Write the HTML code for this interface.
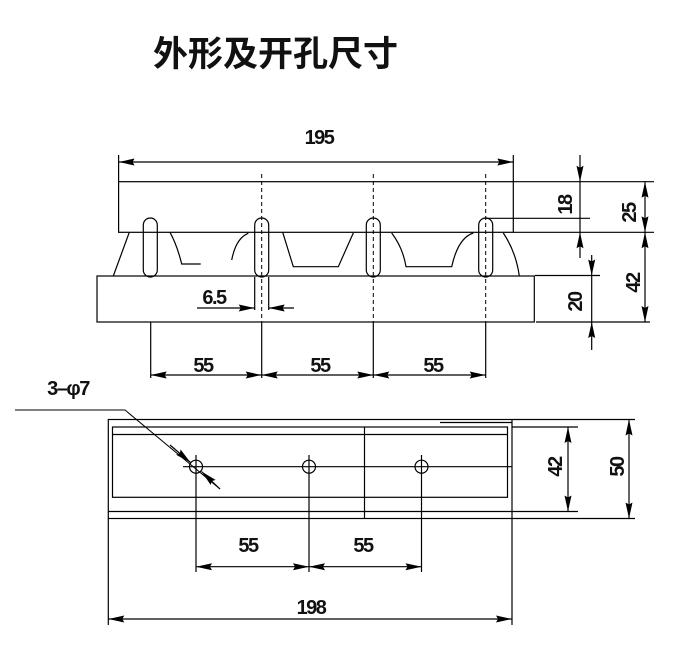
<!DOCTYPE html>
<html><head><meta charset="utf-8"><style>
html,body{margin:0;padding:0;background:#fff;}
svg{display:block;}
text{font-family:"Liberation Sans",Arial,sans-serif;font-size:20px;fill:#111;font-weight:bold;}
</style></head><body>
<svg width="679" height="648" viewBox="0 0 679 648" xmlns="http://www.w3.org/2000/svg">
<defs>
<marker id="a" viewBox="0 0 16 8" refX="16" refY="4" markerWidth="16" markerHeight="8" markerUnits="userSpaceOnUse" orient="auto-start-reverse">
<path d="M0,0.5 L16,4 L0,7.5 L2,4 Z" fill="#000"/>
</marker>
</defs>
<text x="153" y="66" style="font-family:'Liberation Sans','Noto Sans CJK SC',sans-serif;font-size:35px;font-weight:bold;">外形及开孔尺寸</text>

<g stroke="#000" stroke-width="1.2" fill="none">
<rect x="118.6" y="181.7" width="394.7" height="50.6"/>
<rect x="97" y="276" width="437.3" height="46"/>
<line x1="118.6" y1="155" x2="118.6" y2="182"/>
<line x1="513.3" y1="155" x2="513.3" y2="182"/>
<line x1="118.6" y1="162" x2="513.3" y2="162" marker-start="url(#a)" marker-end="url(#a)"/>
<g stroke-dasharray="4,3" stroke-width="1">
<line x1="261.7" y1="174" x2="261.7" y2="322"/>
<line x1="373.3" y1="174" x2="373.3" y2="322"/>
<line x1="485.7" y1="174" x2="485.7" y2="322"/>
</g>
<rect x="143.3" y="218" width="14" height="59" rx="7"/>
<rect x="254.7" y="218" width="14" height="59" rx="7"/>
<rect x="366.3" y="218" width="14" height="59" rx="7"/>
<rect x="478.7" y="218" width="14" height="59" rx="7"/>
<path d="M129.3,232.3 L113.3,276"/>
<path d="M170,232.3 Q177,245 181.7,264 L200.7,264"/>
<path d="M231.7,260 Q236,238 248.3,233.3"/>
<path d="M282.7,232.3 L293.3,266.7 L338.3,266.7 L353.3,233"/>
<path d="M391.7,233 Q403,248 406,266.7 L451.7,266.7 Q458,238 473.3,233"/>
<path d="M503.3,233 Q516,252 519.3,276"/>
<line x1="254.7" y1="277" x2="254.7" y2="310"/>
<line x1="268.7" y1="277" x2="268.7" y2="310"/>
<line x1="197" y1="308" x2="254.7" y2="308" marker-end="url(#a)"/>
<line x1="294" y1="308" x2="268.7" y2="308" marker-end="url(#a)"/>
<line x1="150.7" y1="322" x2="150.7" y2="378"/>
<line x1="261.7" y1="322" x2="261.7" y2="378"/>
<line x1="373.3" y1="322" x2="373.3" y2="378"/>
<line x1="485.7" y1="322" x2="485.7" y2="378"/>
<line x1="150.7" y1="375" x2="261.7" y2="375" marker-start="url(#a)" marker-end="url(#a)"/>
<line x1="261.7" y1="375" x2="373.3" y2="375" marker-start="url(#a)" marker-end="url(#a)"/>
<line x1="373.3" y1="375" x2="485.7" y2="375" marker-start="url(#a)" marker-end="url(#a)"/>
<line x1="513.3" y1="181.7" x2="654" y2="181.7"/>
<line x1="513.3" y1="232.3" x2="654" y2="232.3"/>
<line x1="485.7" y1="218.3" x2="590" y2="218.3"/>
<line x1="580" y1="155" x2="580" y2="181.7" marker-end="url(#a)"/>
<line x1="580" y1="181.7" x2="580" y2="232.3"/>
<line x1="580" y1="258" x2="580" y2="232.3" marker-end="url(#a)"/>
<line x1="645" y1="181.7" x2="645" y2="232.3" marker-start="url(#a)" marker-end="url(#a)"/>
<line x1="645" y1="232.3" x2="645" y2="322" marker-start="url(#a)" marker-end="url(#a)"/>
<line x1="535" y1="275.5" x2="600" y2="275.5"/>
<line x1="536" y1="322" x2="650" y2="322"/>
<line x1="591.7" y1="255" x2="591.7" y2="275.5" marker-end="url(#a)"/>
<line x1="591.7" y1="275.5" x2="591.7" y2="322"/>
<line x1="591.7" y1="350" x2="591.7" y2="322" marker-end="url(#a)"/>

<rect x="108.3" y="419.5" width="403.7" height="99"/>
<rect x="112.5" y="427" width="395" height="70.3"/>
<line x1="112.5" y1="434.5" x2="507.5" y2="434.5"/>
<line x1="108.3" y1="511.5" x2="512" y2="511.5"/>
<line x1="364.5" y1="427" x2="364.5" y2="518.5"/>
<line x1="440" y1="422.5" x2="512" y2="422.5"/>
<circle cx="196" cy="466.7" r="6.5"/>
<circle cx="309" cy="466.7" r="6.5"/>
<circle cx="421.5" cy="466.7" r="6.5"/>
<line x1="183" y1="466.7" x2="512" y2="466.7"/>
<line x1="196" y1="455" x2="196" y2="572"/>
<line x1="309" y1="455" x2="309" y2="572"/>
<line x1="421.5" y1="455" x2="421.5" y2="572"/>
<path d="M15,410 L125,410 L220,489" stroke-width="1"/>
<line x1="170" y1="445" x2="190.5" y2="462.5" marker-end="url(#a)"/>
<line x1="220" y1="489" x2="201.5" y2="471.5" marker-end="url(#a)"/>
<line x1="196" y1="566.7" x2="309" y2="566.7" marker-start="url(#a)" marker-end="url(#a)"/>
<line x1="309" y1="566.7" x2="421.5" y2="566.7" marker-start="url(#a)" marker-end="url(#a)"/>
<line x1="108.3" y1="518.5" x2="108.3" y2="625"/>
<line x1="512" y1="518.5" x2="512" y2="625"/>
<line x1="108.3" y1="619" x2="512" y2="619" marker-start="url(#a)" marker-end="url(#a)"/>
<line x1="512" y1="427" x2="578" y2="427"/>
<line x1="512" y1="511.5" x2="578" y2="511.5"/>
<line x1="568" y1="427" x2="568" y2="511.5" marker-start="url(#a)" marker-end="url(#a)"/>
<line x1="512" y1="419.5" x2="635" y2="419.5"/>
<line x1="512" y1="518.5" x2="635" y2="518.5"/>
<line x1="629" y1="419.5" x2="629" y2="518.5" marker-start="url(#a)" marker-end="url(#a)"/>
</g>

<g text-anchor="middle" letter-spacing="-1.5">
<text x="319" y="144">195</text>
<text x="214" y="304">6.5</text>
<text x="203" y="372">55</text>
<text x="320" y="372">55</text>
<text x="433" y="372">55</text>
<text x="248" y="552">55</text>
<text x="363" y="552">55</text>
<text x="311" y="614">198</text>
<text x="68" y="395">3–φ7</text>
<text transform="translate(572,205) rotate(-90)">18</text>
<text transform="translate(636,213) rotate(-90)">25</text>
<text transform="translate(640,283) rotate(-90)">42</text>
<text transform="translate(582,302) rotate(-90)">20</text>
<text transform="translate(562,467) rotate(-90)">42</text>
<text transform="translate(624,467) rotate(-90)">50</text>
</g>
</svg>
</body></html>
